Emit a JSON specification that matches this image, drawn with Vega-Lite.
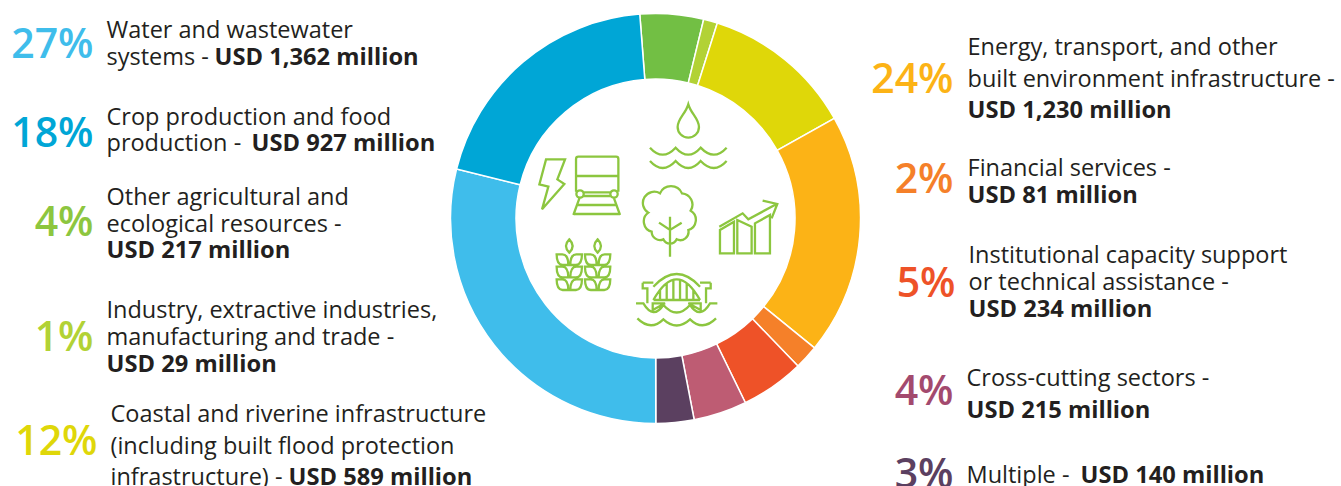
{
"$schema":"https://vega.github.io/schema/vega-lite/v6.json",
"width":1311,"height":437,"autosize":"none",
"padding":{"left":0,"top":0,"right":30,"bottom":49},
"background":"white",
"view":{"stroke":null},
"config":{"axis":{"domain":false}},
"datasets":{
"slices":[
{"seq":1,"sector":"Other agricultural and ecological resources","share":5.0},
{"seq":2,"sector":"Industry, extractive industries, manufacturing and trade","share":1.1},
{"seq":3,"sector":"Coastal and riverine infrastructure","share":12.0},
{"seq":4,"sector":"Energy, transport, and other built environment infrastructure","share":19.0},
{"seq":5,"sector":"Financial services","share":1.9},
{"seq":6,"sector":"Institutional capacity support or technical assistance","share":5.0},
{"seq":7,"sector":"Cross-cutting sectors","share":4.2},
{"seq":8,"sector":"Multiple","share":3.0},
{"seq":9,"sector":"Water and wastewater systems","share":28.9},
{"seq":10,"sector":"Crop production and food production","share":19.9}
],
"percents":[
{"text":"27%","col":1,"line":3,"sector":"Water and wastewater systems"},
{"text":"18%","col":1,"line":10,"sector":"Crop production and food production"},
{"text":"4%","col":1,"line":20,"sector":"Other agricultural and ecological resources"},
{"text":"1%","col":1,"line":30,"sector":"Industry, extractive industries, manufacturing and trade"},
{"text":"12%","col":2,"line":37,"sector":"Coastal and riverine infrastructure"},
{"text":"24%","col":15,"line":6,"sector":"Energy, transport, and other built environment infrastructure"},
{"text":"2%","col":15,"line":14,"sector":"Financial services"},
{"text":"5%","col":16,"line":25,"sector":"Institutional capacity support or technical assistance"},
{"text":"4%","col":15,"line":33,"sector":"Cross-cutting sectors"},
{"text":"3%","col":15,"line":40,"sector":"Multiple"}
],
"regular":[
{"text":"Water and wastewater","col":3,"line":1},
{"text":"systems -","col":3,"line":4},
{"text":"Crop production and food","col":3,"line":8},
{"text":"production -","col":3,"line":11},
{"text":"Other agricultural and","col":3,"line":16},
{"text":"ecological resources -","col":3,"line":19},
{"text":"Industry, extractive industries,","col":3,"line":28},
{"text":"manufacturing and trade -","col":3,"line":29},
{"text":"Coastal and riverine infrastructure","col":4,"line":35},
{"text":"(including built flood protection","col":4,"line":36},
{"text":"infrastructure) -","col":4,"line":39},
{"text":"Energy, transport, and other","col":18,"line":2},
{"text":"built environment infrastructure -","col":18,"line":5},
{"text":"Financial services -","col":18,"line":12},
{"text":"Institutional capacity support","col":19,"line":22},
{"text":"or technical assistance -","col":19,"line":24},
{"text":"Cross-cutting sectors -","col":17,"line":32},
{"text":"Multiple -","col":17,"line":38}
],
"bold":[
{"text":"USD 1,362 million","col":5,"line":4},
{"text":"USD 927 million","col":6,"line":11},
{"text":"USD 217 million","col":3,"line":21},
{"text":"USD 29 million","col":3,"line":31},
{"text":"USD 589 million","col":7,"line":39},
{"text":"USD 1,230 million","col":18,"line":7},
{"text":"USD 81 million","col":18,"line":15},
{"text":"USD 234 million","col":19,"line":27},
{"text":"USD 215 million","col":17,"line":34},
{"text":"USD 140 million","col":20,"line":38}
],
"icons":[
{"icon":"water","col":13,"line":9},
{"icon":"train","col":10,"line":13},
{"icon":"bolt","col":8,"line":13},
{"icon":"tree","col":11,"line":17},
{"icon":"chart","col":14,"line":18},
{"icon":"wheat","col":9,"line":23},
{"icon":"bridge","col":12,"line":26}
]
},
"resolve":{"scale":{"color":"independent"}},
"layer":[
{"data":{"name":"slices"},
 "mark":{"type":"arc","radius":205,"radius2":139.5,"stroke":"white","strokeWidth":1.5},
 "encoding":{
  "theta":{"field":"share","type":"quantitative","stack":true,"scale":{"domain":[0,100],"range":[-0.0768,6.2064]}},
  "order":{"field":"seq","type":"quantitative"},
  "color":{"field":"sector","type":"nominal","legend":null,"scale":{
   "domain":["Water and wastewater systems","Crop production and food production","Other agricultural and ecological resources","Industry, extractive industries, manufacturing and trade","Coastal and riverine infrastructure","Energy, transport, and other built environment infrastructure","Financial services","Institutional capacity support or technical assistance","Cross-cutting sectors","Multiple"],
   "range":["#3FBDEB","#00A6D6","#72BF44","#B2D235","#DFD709","#FCB316","#F58029","#EE5228","#BE5C73","#5B4060"]}}
 }},
{"data":{"name":"icons"},
 "mark":{"type":"point","filled":false,"size":0.4444,"stroke":"#8CC63F","strokeWidth":2.3,"opacity":1},
 "encoding":{
  "x":{"field":"col","type":"quantitative","axis":null,"scale":{"domain":[0,1,2,3,4,5,6,7,8,9,10,11,12,13,14,15,16,17,18,19,20],"range":[0,93.5,97.5,106.5,110.5,214.5,251.5,288.5,551.7,583.3,596.7,670,676.7,688.3,748.3,953.5,955.5,966.5,967.5,968.5,1080.5]}},
  "y":{"field":"line","type":"quantitative","axis":null,"scale":{"domain":[0,1,2,3,4,5,6,7,8,9,10,11,12,13,14,15,16,17,18,19,20,21,22,23,24,25,26,27,28,29,30,31,32,33,34,35,36,37,38,39,40],"range":[0,38,55,58,65,87,93,118,125,137,147,151,176,185,193,203,205,220,230,232,236,258,263,265,290,297,300,317,318,345,351,372,386,405,418,422,454,455,483,485,488]}},
  "shape":{"field":"icon","type":"nominal","legend":null,"scale":{
   "domain":["water","train","bolt","tree","chart","wheat","bridge"],
   "range":[
"M0,-98 C-8,-70 -32,-55 -32,-30 A32,32 0 0 0 32,-30 C32,-55 8,-70 0,-98 Z M-115,32 Q-77,74 -38,32 Q0,74 37,32 Q77,74 115,32 M-115,72 Q-77,114 -38,72 Q0,114 37,72 Q77,114 115,72",
"M-55,-85 H58 Q65,-85 65,-78 V20 M-55,-85 Q-62,-85 -62,-78 V20 M-62,-27 H65 M-39,27 A11,11 0 1 0 -61,27 A11,11 0 1 0 -39,27 Z M63,27 A11,11 0 1 0 41,27 A11,11 0 1 0 63,27 Z M-39,22 H41 M-39,33 H41 M-70,90 L-52,40 M70,90 L52,40 M-60,60 H60 M-66,87 H66",
"M-17,-77 L40,-77 L17,-17 L38,-3 L-29,73 L-10,5 L-37,-2 Z",
"M-30,-80 A36,36 0 0 1 36,-80 A34,34 0 0 1 62,-28 A32,32 0 0 1 55,30 A25,25 0 0 1 20,58 A22,22 0 0 1 -20,58 A25,25 0 0 1 -55,35 A32,32 0 0 1 -65,-22 A30,30 0 0 1 -30,-80 Z M0,-10 V110 M-33,8 L0,30 L35,8",
"M-85,70 V0 L-43,-25 V70 Z M-33,70 V-30 L10,-10 V70 Z M20,70 V-20 L65,-45 V70 Z M-87,-10 L-17,-50 L0,-32 L85,-78 M43,-88 L87,-78 L70,-35",
"M-42,-77 q20,20 0,40 q-20,-20 0,-40 z M43,-77 q20,20 0,40 q-20,-20 0,-40 z M-45,0 h-17 q-18,0 -18,-32 h17 q18,0 18,32 z M-39,0 h17 q18,0 18,-32 h-17 q-18,0 -18,32 z M-45,37 h-17 q-18,0 -18,-32 h17 q18,0 18,32 z M-39,37 h17 q18,0 18,-32 h-17 q-18,0 -18,32 z M-45,75 h-17 q-18,0 -18,-32 h17 q18,0 18,32 z M-39,75 h17 q18,0 18,-32 h-17 q-18,0 -18,32 z M40,0 h-17 q-18,0 -18,-32 h17 q18,0 18,32 z M46,0 h17 q18,0 18,-32 h-17 q-18,0 -18,32 z M40,37 h-17 q-18,0 -18,-32 h17 q18,0 18,32 z M46,37 h17 q18,0 18,-32 h-17 q-18,0 -18,32 z M40,75 h-17 q-18,0 -18,-32 h17 q18,0 18,32 z M46,75 h17 q18,0 18,-32 h-17 q-18,0 -18,32 z",
"M-70,-40 Q0,-116 70,-40 M-70,0 Q0,-124 70,0 M-70,0 H70 M-50,-30 V0 M-30,-51 V0 M-10,-61 V0 M10,-61 V0 M30,-51 V0 M50,-30 V0 M-102,-52 H-70 M-102,-52 V-35 H-88 V10 M102,-52 H70 M102,-52 V-35 H88 V10 M-122,10 H-100 Q-70,60 -40,15 Q0,60 40,15 Q70,60 100,10 H122 M-118,55 Q-78,95 -40,58 Q0,95 40,58 Q78,95 118,55 M-72,10 H-35 L-72,30 Z M72,10 H35 L72,30 Z"
   ]}}
 }},
{"data":{"name":"regular"},
 "mark":{"type":"text","align":"left","baseline":"alphabetic","font":"Open Sans","fontSize":23.5,"color":"#231F20"},
 "encoding":{"x":{"field":"col","type":"quantitative"},"y":{"field":"line","type":"quantitative"},"text":{"field":"text"}}},
{"data":{"name":"bold"},
 "mark":{"type":"text","align":"left","baseline":"alphabetic","font":"Open Sans","fontSize":23.7,"fontWeight":"bold","color":"#231F20"},
 "encoding":{"x":{"field":"col","type":"quantitative"},"y":{"field":"line","type":"quantitative"},"text":{"field":"text"}}},
{"data":{"name":"percents"},
 "mark":{"type":"text","align":"right","baseline":"alphabetic","font":"Open Sans","fontSize":41,"fontWeight":600},
 "encoding":{"x":{"field":"col","type":"quantitative"},"y":{"field":"line","type":"quantitative"},"text":{"field":"text"},
  "color":{"field":"sector","type":"nominal","legend":null,"scale":{
   "domain":["Water and wastewater systems","Crop production and food production","Other agricultural and ecological resources","Industry, extractive industries, manufacturing and trade","Coastal and riverine infrastructure","Energy, transport, and other built environment infrastructure","Financial services","Institutional capacity support or technical assistance","Cross-cutting sectors","Multiple"],
   "range":["#3FBDEB","#00A6D6","#8DC63F","#B2D235","#DFD709","#FCB316","#F58029","#EE5228","#A34A6E","#5B4060"]}}}}
]
}
